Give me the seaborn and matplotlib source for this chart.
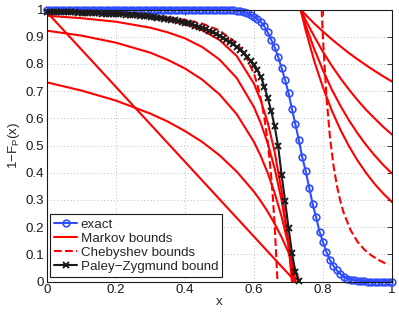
import numpy as np
import matplotlib
matplotlib.use('Agg')
import matplotlib.pyplot as plt
import seaborn as sns

# exact tail 1-F_P(x), one point every 0.01 on [0, 1]
x_exact = np.linspace(0, 1, 101)
p_exact = [1.0, 1.0, 1.0, 1.0, 1.0, 1.0, 1.0, 1.0, 1.0, 1.0,
           1.0, 1.0, 1.0, 1.0, 1.0, 1.0, 1.0, 1.0, 1.0, 1.0,
           1.0, 1.0, 1.0, 1.0, 1.0, 1.0, 1.0, 1.0, 1.0, 1.0,
           1.0, 1.0, 1.0, 1.0, 1.0, 1.0, 1.0, 1.0, 1.0, 1.0,
           1.0, 1.0, 1.0, 1.0, 1.0, 1.0, 1.0, 1.0, 1.0, 1.0,
           1.000, 0.999, 0.999, 0.998, 0.997, 0.995, 0.993, 0.990, 0.986, 0.980,
           0.973, 0.965, 0.955, 0.938, 0.916, 0.889, 0.861, 0.826, 0.785, 0.741,
           0.693, 0.634, 0.578, 0.520, 0.456, 0.405, 0.345, 0.285, 0.237, 0.183,
           0.145, 0.108, 0.079, 0.058, 0.041, 0.028, 0.018, 0.011, 0.007, 0.004,
           0.003, 0.002, 0.001, 0.0, 0.0, 0.0, 0.0, 0.0, 0.0, 0.0,
           0.0]

# Paley-Zygmund bound, every 0.01 on [0, 0.73]
x_pz = np.linspace(0, 0.73, 74)
p_pz = [0.991, 0.991, 0.990, 0.990, 0.990, 0.990, 0.989, 0.989, 0.989, 0.988,
        0.988, 0.988, 0.987, 0.987, 0.986, 0.986, 0.985, 0.985, 0.984, 0.984,
        0.983, 0.982, 0.982, 0.981, 0.980, 0.979, 0.978, 0.977, 0.976, 0.975,
        0.974, 0.972, 0.970, 0.968, 0.966, 0.964, 0.962, 0.960, 0.957, 0.955,
        0.952, 0.949, 0.945, 0.941, 0.937, 0.932, 0.927, 0.922, 0.916, 0.910,
        0.904, 0.897, 0.889, 0.881, 0.872, 0.862, 0.852, 0.840, 0.827, 0.812,
        0.795, 0.776, 0.752, 0.716, 0.674, 0.626, 0.570, 0.497, 0.393, 0.297,
        0.198, 0.106, 0.035, 0.002]

# Markov bounds, lower family (left)
x_mk_lo = [0, 0.1, 0.2, 0.3, 0.35, 0.4, 0.45, 0.5, 0.55, 0.6, 0.62, 0.64,
           0.66, 0.68, 0.70, 0.72, 0.74]
mk_lo_1 = [0.732, 0.702, 0.665, 0.617, 0.588, 0.553, 0.513, 0.464, 0.404, 0.330,
           0.295, 0.256, 0.212, 0.163, 0.107, 0.043, -0.031]
mk_lo_2 = [0.922, 0.904, 0.878, 0.841, 0.815, 0.783, 0.742, 0.688, 0.615, 0.513,
           0.460, 0.398, 0.325, 0.238, 0.133, 0.005, -0.154]
mk_lo_3 = [0.977, 0.968, 0.955, 0.933, 0.916, 0.894, 0.862, 0.816, 0.748, 0.641,
           0.581, 0.507, 0.415, 0.298, 0.148, -0.048, -0.308]
mk_lo_4 = [0.993, 0.989, 0.983, 0.971, 0.961, 0.946, 0.924, 0.888, 0.829, 0.727,
           0.664, 0.583, 0.476, 0.333, 0.136, -0.139, -0.532]
x_mk_line = [0, 0.72]
mk_line = [0.99, 0.0]

# Markov bounds, upper family (right)
x_mk_hi = [0.735, 0.75, 0.775, 0.80, 0.825, 0.85, 0.875, 0.90, 0.925, 0.95, 0.975, 1.0]
mk_hi_1 = [1.0, 0.980, 0.948, 0.919, 0.891, 0.865, 0.840, 0.817, 0.795, 0.774, 0.754, 0.735]
mk_hi_2 = [1.0, 0.960, 0.900, 0.844, 0.794, 0.748, 0.706, 0.667, 0.631, 0.599, 0.568, 0.540]
mk_hi_3 = [1.0, 0.941, 0.853, 0.776, 0.707, 0.647, 0.593, 0.545, 0.502, 0.463, 0.428, 0.397]
mk_hi_4 = [1.0, 0.922, 0.809, 0.713, 0.630, 0.559, 0.498, 0.445, 0.399, 0.358, 0.323, 0.292]

# Chebyshev bounds
x_ch_lo = [0, 0.1, 0.2, 0.3, 0.4, 0.45, 0.5, 0.55, 0.575, 0.6, 0.61, 0.62, 0.63,
           0.64, 0.65, 0.655, 0.66, 0.665, 0.668]
ch_lo = [0.992, 0.990, 0.985, 0.978, 0.962, 0.948, 0.923, 0.875, 0.833, 0.763, 0.722,
         0.671, 0.603, 0.512, 0.385, 0.303, 0.203, 0.080, 0.0]
x_ch_hi = [0.796, 0.798, 0.80, 0.81, 0.82, 0.83, 0.84, 0.85, 0.86, 0.88, 0.90, 0.92,
           0.94, 0.96, 0.98, 0.99]
ch_hi = [1.0, 0.948, 0.893, 0.679, 0.533, 0.430, 0.354, 0.297, 0.252, 0.189, 0.146,
         0.117, 0.096, 0.080, 0.067, 0.062]

sns.set_theme(style='white')
plt.rcParams['font.family'] = ['Liberation Sans', 'DejaVu Sans']
plt.rcParams['mathtext.default'] = 'regular'
plt.rcParams['font.size'] = 9.6

RED = '#ff0000'
BLUE = '#2f4dff'

fig = plt.figure(figsize=(3.99, 3.14), dpi=100)
ax = fig.add_axes([47 / 399, 32.5 / 314, 345 / 399, 272 / 314])

sns.lineplot(x=x_exact, y=p_exact, ax=ax, color=BLUE, lw=1.5, marker='o', ms=4.8,
             mfc='none', mec=BLUE, mew=1.2, clip_on=False, label='exact',
             estimator=None, sort=False)

markov = [(x_mk_lo, mk_lo_1), (x_mk_lo, mk_lo_2), (x_mk_lo, mk_lo_3),
          (x_mk_lo, mk_lo_4), (x_mk_line, mk_line),
          (x_mk_hi, mk_hi_1), (x_mk_hi, mk_hi_2), (x_mk_hi, mk_hi_3), (x_mk_hi, mk_hi_4)]
for i, (xs, ys) in enumerate(markov):
    sns.lineplot(x=xs, y=ys, ax=ax, color=RED, lw=1.5,
                 label='Markov bounds' if i == 0 else None,
                 estimator=None, sort=False)

sns.lineplot(x=x_ch_lo, y=ch_lo, ax=ax, color=RED, lw=1.5, ls='--',
             label='Chebyshev bounds', estimator=None, sort=False)
sns.lineplot(x=x_ch_hi, y=ch_hi, ax=ax, color=RED, lw=1.5, ls='--',
             estimator=None, sort=False)

sns.lineplot(x=x_pz, y=p_pz, ax=ax, color='k', lw=1.5, marker='x', ms=4.5,
             mec='k', mew=1.4, clip_on=False, label='Paley\u2212Zygmund bound',
             estimator=None, sort=False)

ax.set_xlim(0, 1)
ax.set_ylim(0, 1)
ax.set_xticks([0, 0.2, 0.4, 0.6, 0.8, 1])
ax.set_xticklabels(['0', '0.2', '0.4', '0.6', '0.8', '1'])
ax.set_yticks([0, 0.1, 0.2, 0.3, 0.4, 0.5, 0.6, 0.7, 0.8, 0.9, 1])
ax.set_yticklabels(['0', '0.1', '0.2', '0.3', '0.4', '0.5', '0.6', '0.7', '0.8', '0.9', '1'])
ax.grid(True, color='0.65', lw=0.6, ls=(0, (1, 3)))
ax.tick_params(direction='in', top=True, right=True, length=3.5, width=0.6,
               colors='k', labelsize=9.6, pad=2)
for s in ax.spines.values():
    s.set_visible(True)
    s.set_color('0.1')
    s.set_linewidth(0.8)

ax.set_xlabel('x', fontsize=9.6)
ax.xaxis.set_label_coords(0.5, -0.055)
ax.set_ylabel('1\u2212F$_P$(x)', fontsize=9.6)
ax.yaxis.set_label_coords(-0.072, 0.5)

leg = ax.legend(loc='lower left', bbox_to_anchor=(0.009, 0.018), borderaxespad=0,
                frameon=True, fancybox=False, framealpha=1, edgecolor='k',
                fontsize=9.6, handlelength=1.75, handletextpad=0.25,
                labelspacing=0.12, borderpad=0.3)
leg.get_frame().set_linewidth(0.8)

fig.savefig('out.png', dpi=100)
